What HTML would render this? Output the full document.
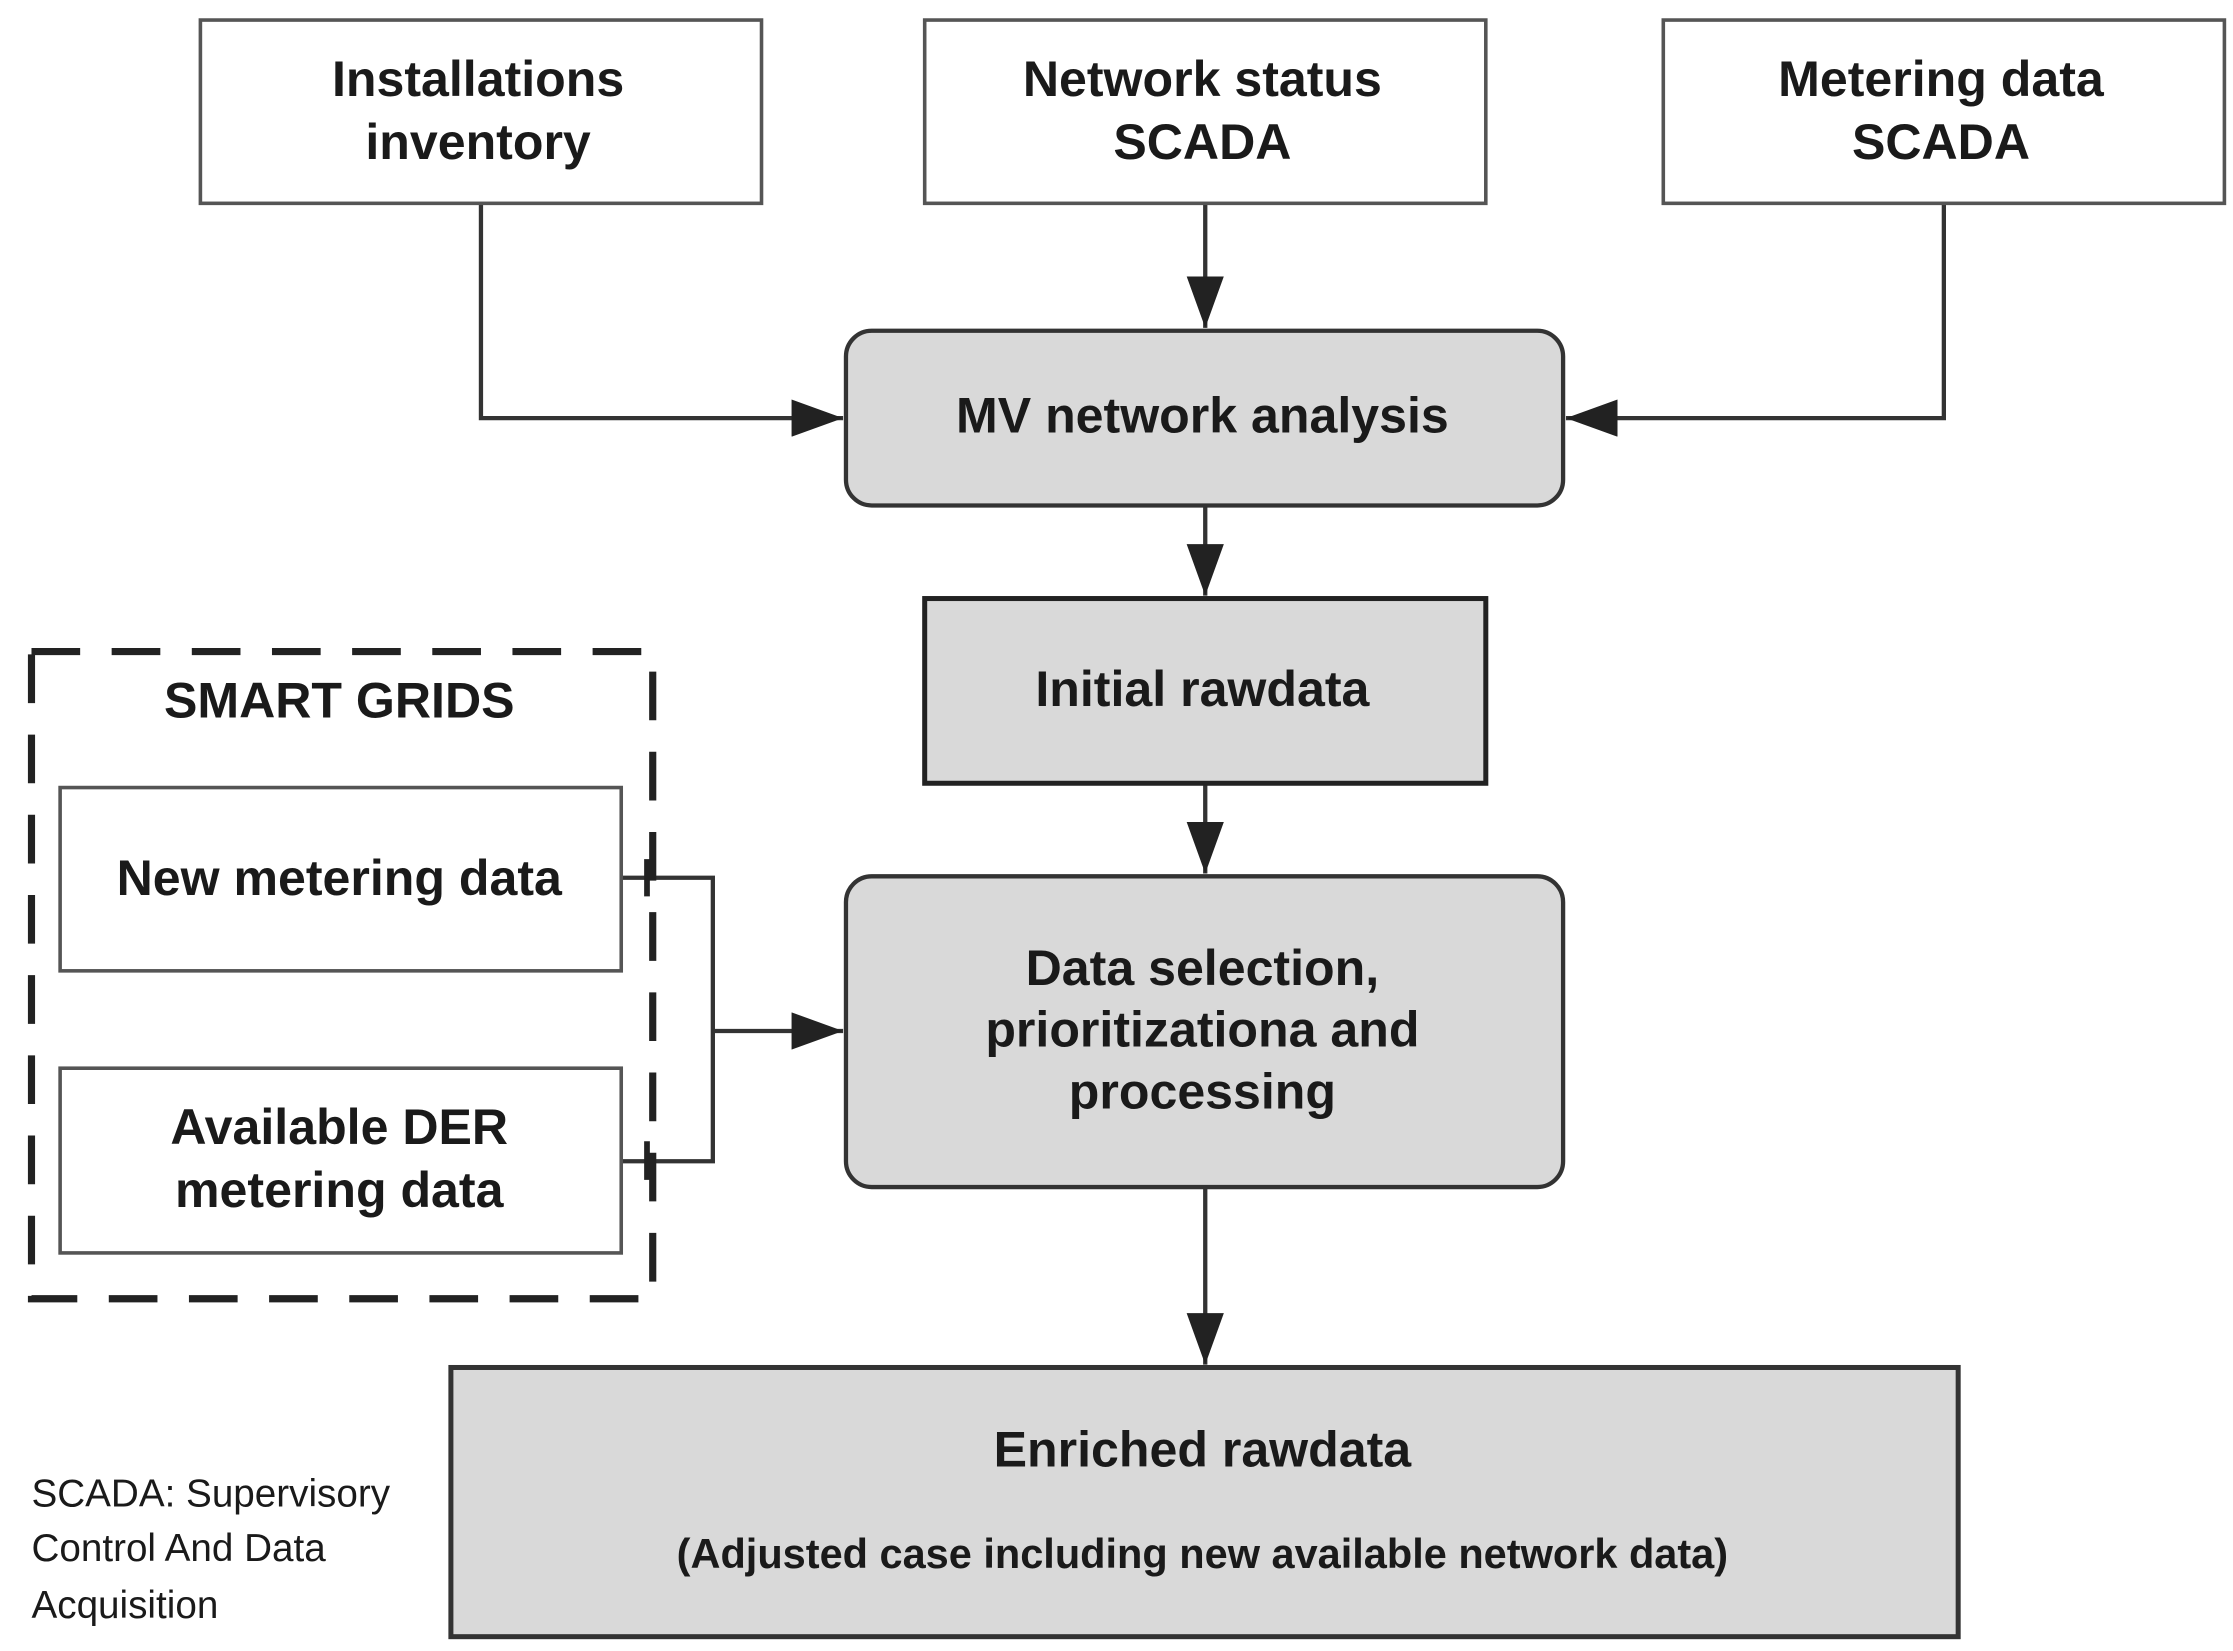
<!DOCTYPE html>
<html><head><meta charset="utf-8"><style>
html,body{margin:0;padding:0;background:#fff;}
svg{display:block;}
text{font-family:"Liberation Sans",Arial,sans-serif;fill:#1a1a1a;}
.b{font-weight:bold;font-size:35px;}
</style></head><body>
<svg width="2233" height="1651" viewBox="0 0 1560 1153" preserveAspectRatio="none" xmlns="http://www.w3.org/2000/svg">
<defs>
<marker id="A" viewBox="0 0 10 10" refX="10" refY="5" markerWidth="36" markerHeight="26" markerUnits="userSpaceOnUse" orient="auto" preserveAspectRatio="none"><path d="M0,0 L10,5 L0,10 z" fill="#222"/></marker></defs>
<g fill="none" stroke="#333" stroke-width="3">
<path d="M336 142 V292 H589" marker-end="url(#A)"/>
<path d="M1358 142 V292 H1094" marker-end="url(#A)"/>
<path d="M842 142 V229" marker-end="url(#A)"/>
<path d="M842 353 V416" marker-end="url(#A)"/>
<path d="M842 547 V610" marker-end="url(#A)"/>
<path d="M842 829 V953" marker-end="url(#A)"/>
<path d="M434 613 H498 V811 H434"/>
<path d="M498 720 H589" marker-end="url(#A)"/>
</g>
<g stroke="#555" stroke-width="2.5" fill="#fff">
<rect x="140" y="14" width="392" height="128"/>
<rect x="646" y="14" width="392" height="128"/>
<rect x="1162" y="14" width="392" height="128"/>
<rect x="42" y="550" width="392" height="128"/>
<rect x="42" y="746" width="392" height="129"/>
</g>
<rect x="22" y="455" width="434" height="452" fill="none" stroke="#222" stroke-width="5" stroke-dasharray="34,22"/>
<path d="M452 600 V626 M452 797 V824" stroke="#222" stroke-width="4"/>
<rect x="591" y="231" width="501" height="122" rx="18" fill="#d9d9d9" stroke="#333" stroke-width="3"/>
<rect x="646" y="418" width="392" height="129" fill="#d9d9d9" stroke="#222" stroke-width="3.5"/>
<rect x="591" y="612" width="501" height="217" rx="18" fill="#d9d9d9" stroke="#333" stroke-width="3"/>
<rect x="315" y="955" width="1053" height="188" fill="#d9d9d9" stroke="#333" stroke-width="3.5"/>
<g class="b" text-anchor="middle">
<text x="334" y="67">Installations</text><text x="334" y="111">inventory</text>
<text x="840" y="67">Network status</text><text x="840" y="111">SCADA</text>
<text x="1356" y="67">Metering data</text><text x="1356" y="111">SCADA</text>
<text x="840" y="302">MV network analysis</text>
<text x="840" y="493">Initial rawdata</text>
<text x="237" y="501">SMART GRIDS</text>
<text x="237" y="625">New metering data</text>
<text x="237" y="799">Available DER</text><text x="237" y="843">metering data</text>
<text x="840" y="688">Data selection,</text><text x="840" y="731">prioritizationa and</text><text x="840" y="774">processing</text>
<text x="840" y="1024">Enriched rawdata</text>
<text x="840" y="1095" style="font-size:29px">(Adjusted case including new available network data)</text>
</g>
<g style="font-size:27px">
<text x="22" y="1052">SCADA: Supervisory</text>
<text x="22" y="1090">Control And Data</text>
<text x="22" y="1130">Acquisition</text>
</g>
</svg>
</body></html>
